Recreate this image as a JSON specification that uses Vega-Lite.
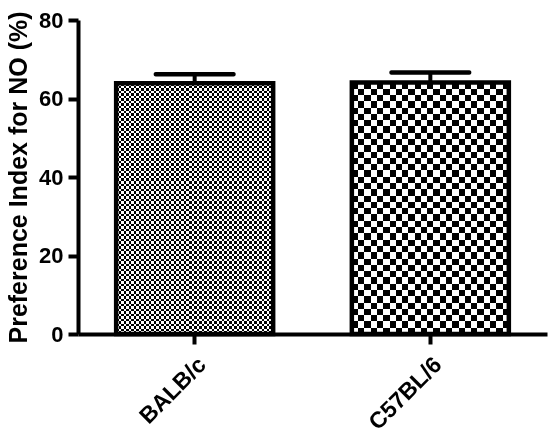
{
  "$schema": "https://vega.github.io/schema/vega-lite/v6.json",
  "autosize": "none",
  "width": 469,
  "height": 314,
  "padding": {"left": 78, "top": 20, "right": 3, "bottom": 100},
  "config": {
    "view": {"stroke": null},
    "font": "Liberation Sans",
    "axis": {
      "domainColor": "black", "domainWidth": 4, "tickColor": "black", "tickWidth": 4, "tickSize": 10,
      "labelFont": "Liberation Sans", "labelFontWeight": "bold", "labelFontSize": 22, "labelColor": "black",
      "titleFont": "Liberation Sans", "titleFontWeight": "bold", "titleFontSize": 25, "titleColor": "black",
      "grid": false
    }
  },
  "data": {"values": [
    {"strain": "BALB/c", "value": 63.9, "upper": 66.2},
    {"strain": "C57BL/6", "value": 64.1, "upper": 66.6}
  ]},
  "encoding": {
    "x": {"field": "strain", "type": "nominal", "sort": ["BALB/c", "C57BL/6"],
      "scale": {"paddingInner": 0.32, "paddingOuter": 0.155},
      "axis": {"title": null, "labelAngle": -45, "labelPadding": 9, "labelFontSize": 23}}
  },
  "layer": [
    {
      "transform": [{"filter": "datum.strain == 'C57BL/6'"}],
      "mark": {"type": "bar", "size": 157, "fill": {"gradient": "linear", "x1": 0, "y1": 0, "x2": 1, "y2": 0, "stops": [
        {"offset": 0, "color": "white"}, {"offset": 0.04, "color": "white"}, {"offset": 0.04, "color": "black"}, {"offset": 0.08, "color": "black"},
        {"offset": 0.08, "color": "white"}, {"offset": 0.12, "color": "white"}, {"offset": 0.12, "color": "black"}, {"offset": 0.16, "color": "black"},
        {"offset": 0.16, "color": "white"}, {"offset": 0.2, "color": "white"}, {"offset": 0.2, "color": "black"}, {"offset": 0.24, "color": "black"},
        {"offset": 0.24, "color": "white"}, {"offset": 0.28, "color": "white"}, {"offset": 0.28, "color": "black"}, {"offset": 0.32, "color": "black"},
        {"offset": 0.32, "color": "white"}, {"offset": 0.36, "color": "white"}, {"offset": 0.36, "color": "black"}, {"offset": 0.4, "color": "black"},
        {"offset": 0.4, "color": "white"}, {"offset": 0.44, "color": "white"}, {"offset": 0.44, "color": "black"}, {"offset": 0.48, "color": "black"},
        {"offset": 0.48, "color": "white"}, {"offset": 0.52, "color": "white"}, {"offset": 0.52, "color": "black"}, {"offset": 0.56, "color": "black"},
        {"offset": 0.56, "color": "white"}, {"offset": 0.6, "color": "white"}, {"offset": 0.6, "color": "black"}, {"offset": 0.64, "color": "black"},
        {"offset": 0.64, "color": "white"}, {"offset": 0.68, "color": "white"}, {"offset": 0.68, "color": "black"}, {"offset": 0.72, "color": "black"},
        {"offset": 0.72, "color": "white"}, {"offset": 0.76, "color": "white"}, {"offset": 0.76, "color": "black"}, {"offset": 0.8, "color": "black"},
        {"offset": 0.8, "color": "white"}, {"offset": 0.84, "color": "white"}, {"offset": 0.84, "color": "black"}, {"offset": 0.88, "color": "black"},
        {"offset": 0.88, "color": "white"}, {"offset": 0.92, "color": "white"}, {"offset": 0.92, "color": "black"}, {"offset": 0.96, "color": "black"},
        {"offset": 0.96, "color": "white"}, {"offset": 1, "color": "white"}
      ]}},
      "encoding": {"y": {"field": "value", "type": "quantitative", "scale": {"domain": [0, 80], "nice": false},
        "axis": {"title": "Preference Index for NO (%)", "values": [0, 20, 40, 60, 80], "labelPadding": 5, "titlePadding": 7}}}
    },
    {
      "transform": [{"filter": "datum.strain == 'C57BL/6'"}],
      "mark": {"type": "bar", "size": 157, "blend": "difference", "fill": {"gradient": "linear", "x1": 0, "y1": 0, "x2": 0, "y2": 1, "stops": [
        {"offset": 0, "color": "white"}, {"offset": 0.025, "color": "white"}, {"offset": 0.025, "color": "black"}, {"offset": 0.05, "color": "black"},
        {"offset": 0.05, "color": "white"}, {"offset": 0.075, "color": "white"}, {"offset": 0.075, "color": "black"}, {"offset": 0.1, "color": "black"},
        {"offset": 0.1, "color": "white"}, {"offset": 0.125, "color": "white"}, {"offset": 0.125, "color": "black"}, {"offset": 0.15, "color": "black"},
        {"offset": 0.15, "color": "white"}, {"offset": 0.175, "color": "white"}, {"offset": 0.175, "color": "black"}, {"offset": 0.2, "color": "black"},
        {"offset": 0.2, "color": "white"}, {"offset": 0.225, "color": "white"}, {"offset": 0.225, "color": "black"}, {"offset": 0.25, "color": "black"},
        {"offset": 0.25, "color": "white"}, {"offset": 0.275, "color": "white"}, {"offset": 0.275, "color": "black"}, {"offset": 0.3, "color": "black"},
        {"offset": 0.3, "color": "white"}, {"offset": 0.325, "color": "white"}, {"offset": 0.325, "color": "black"}, {"offset": 0.35, "color": "black"},
        {"offset": 0.35, "color": "white"}, {"offset": 0.375, "color": "white"}, {"offset": 0.375, "color": "black"}, {"offset": 0.4, "color": "black"},
        {"offset": 0.4, "color": "white"}, {"offset": 0.425, "color": "white"}, {"offset": 0.425, "color": "black"}, {"offset": 0.45, "color": "black"},
        {"offset": 0.45, "color": "white"}, {"offset": 0.475, "color": "white"}, {"offset": 0.475, "color": "black"}, {"offset": 0.5, "color": "black"},
        {"offset": 0.5, "color": "white"}, {"offset": 0.525, "color": "white"}, {"offset": 0.525, "color": "black"}, {"offset": 0.55, "color": "black"},
        {"offset": 0.55, "color": "white"}, {"offset": 0.575, "color": "white"}, {"offset": 0.575, "color": "black"}, {"offset": 0.6, "color": "black"},
        {"offset": 0.6, "color": "white"}, {"offset": 0.625, "color": "white"}, {"offset": 0.625, "color": "black"}, {"offset": 0.65, "color": "black"},
        {"offset": 0.65, "color": "white"}, {"offset": 0.675, "color": "white"}, {"offset": 0.675, "color": "black"}, {"offset": 0.7, "color": "black"},
        {"offset": 0.7, "color": "white"}, {"offset": 0.725, "color": "white"}, {"offset": 0.725, "color": "black"}, {"offset": 0.75, "color": "black"},
        {"offset": 0.75, "color": "white"}, {"offset": 0.775, "color": "white"}, {"offset": 0.775, "color": "black"}, {"offset": 0.8, "color": "black"},
        {"offset": 0.8, "color": "white"}, {"offset": 0.825, "color": "white"}, {"offset": 0.825, "color": "black"}, {"offset": 0.85, "color": "black"},
        {"offset": 0.85, "color": "white"}, {"offset": 0.875, "color": "white"}, {"offset": 0.875, "color": "black"}, {"offset": 0.9, "color": "black"},
        {"offset": 0.9, "color": "white"}, {"offset": 0.925, "color": "white"}, {"offset": 0.925, "color": "black"}, {"offset": 0.95, "color": "black"},
        {"offset": 0.95, "color": "white"}, {"offset": 0.975, "color": "white"}, {"offset": 0.975, "color": "black"}, {"offset": 1, "color": "black"}
      ]}},
      "encoding": {"y": {"field": "value", "type": "quantitative"}}
    },
    {
      "transform": [{"filter": "datum.strain == 'BALB/c'"}],
      "mark": {"type": "bar", "size": 157, "fill": {"gradient": "linear", "x1": 0, "y1": 0, "x2": 1, "y2": 0, "stops": [
        {"offset": 0, "color": "white"},
        {"offset": 0.016, "color": "white"}, {"offset": 0.016, "color": "black"}, {"offset": 0.032, "color": "black"}, {"offset": 0.032, "color": "white"},
        {"offset": 0.048, "color": "white"}, {"offset": 0.048, "color": "black"}, {"offset": 0.064, "color": "black"}, {"offset": 0.064, "color": "white"},
        {"offset": 0.08, "color": "white"}, {"offset": 0.08, "color": "black"}, {"offset": 0.096, "color": "black"}, {"offset": 0.096, "color": "white"},
        {"offset": 0.112, "color": "white"}, {"offset": 0.112, "color": "black"}, {"offset": 0.128, "color": "black"}, {"offset": 0.128, "color": "white"},
        {"offset": 0.144, "color": "white"}, {"offset": 0.144, "color": "black"}, {"offset": 0.16, "color": "black"}, {"offset": 0.16, "color": "white"},
        {"offset": 0.176, "color": "white"}, {"offset": 0.176, "color": "black"}, {"offset": 0.192, "color": "black"}, {"offset": 0.192, "color": "white"},
        {"offset": 0.208, "color": "white"}, {"offset": 0.208, "color": "black"}, {"offset": 0.224, "color": "black"}, {"offset": 0.224, "color": "white"},
        {"offset": 0.24, "color": "white"}, {"offset": 0.24, "color": "black"}, {"offset": 0.256, "color": "black"}, {"offset": 0.256, "color": "white"},
        {"offset": 0.272, "color": "white"}, {"offset": 0.272, "color": "black"}, {"offset": 0.288, "color": "black"}, {"offset": 0.288, "color": "white"},
        {"offset": 0.304, "color": "white"}, {"offset": 0.304, "color": "black"}, {"offset": 0.32, "color": "black"}, {"offset": 0.32, "color": "white"},
        {"offset": 0.336, "color": "white"}, {"offset": 0.336, "color": "black"}, {"offset": 0.352, "color": "black"}, {"offset": 0.352, "color": "white"},
        {"offset": 0.368, "color": "white"}, {"offset": 0.368, "color": "black"}, {"offset": 0.384, "color": "black"}, {"offset": 0.384, "color": "white"},
        {"offset": 0.4, "color": "white"}, {"offset": 0.4, "color": "black"}, {"offset": 0.416, "color": "black"}, {"offset": 0.416, "color": "white"},
        {"offset": 0.432, "color": "white"}, {"offset": 0.432, "color": "black"}, {"offset": 0.448, "color": "black"}, {"offset": 0.448, "color": "white"},
        {"offset": 0.464, "color": "white"}, {"offset": 0.464, "color": "black"}, {"offset": 0.48, "color": "black"}, {"offset": 0.48, "color": "white"},
        {"offset": 0.496, "color": "white"}, {"offset": 0.496, "color": "black"}, {"offset": 0.512, "color": "black"}, {"offset": 0.512, "color": "white"},
        {"offset": 0.528, "color": "white"}, {"offset": 0.528, "color": "black"}, {"offset": 0.544, "color": "black"}, {"offset": 0.544, "color": "white"},
        {"offset": 0.56, "color": "white"}, {"offset": 0.56, "color": "black"}, {"offset": 0.576, "color": "black"}, {"offset": 0.576, "color": "white"},
        {"offset": 0.592, "color": "white"}, {"offset": 0.592, "color": "black"}, {"offset": 0.608, "color": "black"}, {"offset": 0.608, "color": "white"},
        {"offset": 0.624, "color": "white"}, {"offset": 0.624, "color": "black"}, {"offset": 0.64, "color": "black"}, {"offset": 0.64, "color": "white"},
        {"offset": 0.656, "color": "white"}, {"offset": 0.656, "color": "black"}, {"offset": 0.672, "color": "black"}, {"offset": 0.672, "color": "white"},
        {"offset": 0.688, "color": "white"}, {"offset": 0.688, "color": "black"}, {"offset": 0.704, "color": "black"}, {"offset": 0.704, "color": "white"},
        {"offset": 0.72, "color": "white"}, {"offset": 0.72, "color": "black"}, {"offset": 0.736, "color": "black"}, {"offset": 0.736, "color": "white"},
        {"offset": 0.752, "color": "white"}, {"offset": 0.752, "color": "black"}, {"offset": 0.768, "color": "black"}, {"offset": 0.768, "color": "white"},
        {"offset": 0.784, "color": "white"}, {"offset": 0.784, "color": "black"}, {"offset": 0.8, "color": "black"}, {"offset": 0.8, "color": "white"},
        {"offset": 0.816, "color": "white"}, {"offset": 0.816, "color": "black"}, {"offset": 0.832, "color": "black"}, {"offset": 0.832, "color": "white"},
        {"offset": 0.848, "color": "white"}, {"offset": 0.848, "color": "black"}, {"offset": 0.864, "color": "black"}, {"offset": 0.864, "color": "white"},
        {"offset": 0.88, "color": "white"}, {"offset": 0.88, "color": "black"}, {"offset": 0.896, "color": "black"}, {"offset": 0.896, "color": "white"},
        {"offset": 0.912, "color": "white"}, {"offset": 0.912, "color": "black"}, {"offset": 0.928, "color": "black"}, {"offset": 0.928, "color": "white"},
        {"offset": 0.944, "color": "white"}, {"offset": 0.944, "color": "black"}, {"offset": 0.96, "color": "black"}, {"offset": 0.96, "color": "white"},
        {"offset": 0.976, "color": "white"}, {"offset": 0.976, "color": "black"}, {"offset": 0.992, "color": "black"}, {"offset": 0.992, "color": "white"},
        {"offset": 1, "color": "white"}
      ]}},
      "encoding": {"y": {"field": "value", "type": "quantitative"}}
    },
    {
      "transform": [{"filter": "datum.strain == 'BALB/c'"}],
      "mark": {"type": "bar", "size": 157, "blend": "difference", "fill": {"gradient": "linear", "x1": 0, "y1": 0, "x2": 0, "y2": 1, "stops": [
        {"offset": 0, "color": "white"},
        {"offset": 0.01, "color": "white"}, {"offset": 0.01, "color": "black"}, {"offset": 0.02, "color": "black"}, {"offset": 0.02, "color": "white"},
        {"offset": 0.03, "color": "white"}, {"offset": 0.03, "color": "black"}, {"offset": 0.04, "color": "black"}, {"offset": 0.04, "color": "white"},
        {"offset": 0.05, "color": "white"}, {"offset": 0.05, "color": "black"}, {"offset": 0.06, "color": "black"}, {"offset": 0.06, "color": "white"},
        {"offset": 0.07, "color": "white"}, {"offset": 0.07, "color": "black"}, {"offset": 0.08, "color": "black"}, {"offset": 0.08, "color": "white"},
        {"offset": 0.09, "color": "white"}, {"offset": 0.09, "color": "black"}, {"offset": 0.1, "color": "black"}, {"offset": 0.1, "color": "white"},
        {"offset": 0.11, "color": "white"}, {"offset": 0.11, "color": "black"}, {"offset": 0.12, "color": "black"}, {"offset": 0.12, "color": "white"},
        {"offset": 0.13, "color": "white"}, {"offset": 0.13, "color": "black"}, {"offset": 0.14, "color": "black"}, {"offset": 0.14, "color": "white"},
        {"offset": 0.15, "color": "white"}, {"offset": 0.15, "color": "black"}, {"offset": 0.16, "color": "black"}, {"offset": 0.16, "color": "white"},
        {"offset": 0.17, "color": "white"}, {"offset": 0.17, "color": "black"}, {"offset": 0.18, "color": "black"}, {"offset": 0.18, "color": "white"},
        {"offset": 0.19, "color": "white"}, {"offset": 0.19, "color": "black"}, {"offset": 0.2, "color": "black"}, {"offset": 0.2, "color": "white"},
        {"offset": 0.21, "color": "white"}, {"offset": 0.21, "color": "black"}, {"offset": 0.22, "color": "black"}, {"offset": 0.22, "color": "white"},
        {"offset": 0.23, "color": "white"}, {"offset": 0.23, "color": "black"}, {"offset": 0.24, "color": "black"}, {"offset": 0.24, "color": "white"},
        {"offset": 0.25, "color": "white"}, {"offset": 0.25, "color": "black"}, {"offset": 0.26, "color": "black"}, {"offset": 0.26, "color": "white"},
        {"offset": 0.27, "color": "white"}, {"offset": 0.27, "color": "black"}, {"offset": 0.28, "color": "black"}, {"offset": 0.28, "color": "white"},
        {"offset": 0.29, "color": "white"}, {"offset": 0.29, "color": "black"}, {"offset": 0.3, "color": "black"}, {"offset": 0.3, "color": "white"},
        {"offset": 0.31, "color": "white"}, {"offset": 0.31, "color": "black"}, {"offset": 0.32, "color": "black"}, {"offset": 0.32, "color": "white"},
        {"offset": 0.33, "color": "white"}, {"offset": 0.33, "color": "black"}, {"offset": 0.34, "color": "black"}, {"offset": 0.34, "color": "white"},
        {"offset": 0.35, "color": "white"}, {"offset": 0.35, "color": "black"}, {"offset": 0.36, "color": "black"}, {"offset": 0.36, "color": "white"},
        {"offset": 0.37, "color": "white"}, {"offset": 0.37, "color": "black"}, {"offset": 0.38, "color": "black"}, {"offset": 0.38, "color": "white"},
        {"offset": 0.39, "color": "white"}, {"offset": 0.39, "color": "black"}, {"offset": 0.4, "color": "black"}, {"offset": 0.4, "color": "white"},
        {"offset": 0.41, "color": "white"}, {"offset": 0.41, "color": "black"}, {"offset": 0.42, "color": "black"}, {"offset": 0.42, "color": "white"},
        {"offset": 0.43, "color": "white"}, {"offset": 0.43, "color": "black"}, {"offset": 0.44, "color": "black"}, {"offset": 0.44, "color": "white"},
        {"offset": 0.45, "color": "white"}, {"offset": 0.45, "color": "black"}, {"offset": 0.46, "color": "black"}, {"offset": 0.46, "color": "white"},
        {"offset": 0.47, "color": "white"}, {"offset": 0.47, "color": "black"}, {"offset": 0.48, "color": "black"}, {"offset": 0.48, "color": "white"},
        {"offset": 0.49, "color": "white"}, {"offset": 0.49, "color": "black"}, {"offset": 0.5, "color": "black"}, {"offset": 0.5, "color": "white"},
        {"offset": 0.51, "color": "white"}, {"offset": 0.51, "color": "black"}, {"offset": 0.52, "color": "black"}, {"offset": 0.52, "color": "white"},
        {"offset": 0.53, "color": "white"}, {"offset": 0.53, "color": "black"}, {"offset": 0.54, "color": "black"}, {"offset": 0.54, "color": "white"},
        {"offset": 0.55, "color": "white"}, {"offset": 0.55, "color": "black"}, {"offset": 0.56, "color": "black"}, {"offset": 0.56, "color": "white"},
        {"offset": 0.57, "color": "white"}, {"offset": 0.57, "color": "black"}, {"offset": 0.58, "color": "black"}, {"offset": 0.58, "color": "white"},
        {"offset": 0.59, "color": "white"}, {"offset": 0.59, "color": "black"}, {"offset": 0.6, "color": "black"}, {"offset": 0.6, "color": "white"},
        {"offset": 0.61, "color": "white"}, {"offset": 0.61, "color": "black"}, {"offset": 0.62, "color": "black"}, {"offset": 0.62, "color": "white"},
        {"offset": 0.63, "color": "white"}, {"offset": 0.63, "color": "black"}, {"offset": 0.64, "color": "black"}, {"offset": 0.64, "color": "white"},
        {"offset": 0.65, "color": "white"}, {"offset": 0.65, "color": "black"}, {"offset": 0.66, "color": "black"}, {"offset": 0.66, "color": "white"},
        {"offset": 0.67, "color": "white"}, {"offset": 0.67, "color": "black"}, {"offset": 0.68, "color": "black"}, {"offset": 0.68, "color": "white"},
        {"offset": 0.69, "color": "white"}, {"offset": 0.69, "color": "black"}, {"offset": 0.7, "color": "black"}, {"offset": 0.7, "color": "white"},
        {"offset": 0.71, "color": "white"}, {"offset": 0.71, "color": "black"}, {"offset": 0.72, "color": "black"}, {"offset": 0.72, "color": "white"},
        {"offset": 0.73, "color": "white"}, {"offset": 0.73, "color": "black"}, {"offset": 0.74, "color": "black"}, {"offset": 0.74, "color": "white"},
        {"offset": 0.75, "color": "white"}, {"offset": 0.75, "color": "black"}, {"offset": 0.76, "color": "black"}, {"offset": 0.76, "color": "white"},
        {"offset": 0.77, "color": "white"}, {"offset": 0.77, "color": "black"}, {"offset": 0.78, "color": "black"}, {"offset": 0.78, "color": "white"},
        {"offset": 0.79, "color": "white"}, {"offset": 0.79, "color": "black"}, {"offset": 0.8, "color": "black"}, {"offset": 0.8, "color": "white"},
        {"offset": 0.81, "color": "white"}, {"offset": 0.81, "color": "black"}, {"offset": 0.82, "color": "black"}, {"offset": 0.82, "color": "white"},
        {"offset": 0.83, "color": "white"}, {"offset": 0.83, "color": "black"}, {"offset": 0.84, "color": "black"}, {"offset": 0.84, "color": "white"},
        {"offset": 0.85, "color": "white"}, {"offset": 0.85, "color": "black"}, {"offset": 0.86, "color": "black"}, {"offset": 0.86, "color": "white"},
        {"offset": 0.87, "color": "white"}, {"offset": 0.87, "color": "black"}, {"offset": 0.88, "color": "black"}, {"offset": 0.88, "color": "white"},
        {"offset": 0.89, "color": "white"}, {"offset": 0.89, "color": "black"}, {"offset": 0.9, "color": "black"}, {"offset": 0.9, "color": "white"},
        {"offset": 0.91, "color": "white"}, {"offset": 0.91, "color": "black"}, {"offset": 0.92, "color": "black"}, {"offset": 0.92, "color": "white"},
        {"offset": 0.93, "color": "white"}, {"offset": 0.93, "color": "black"}, {"offset": 0.94, "color": "black"}, {"offset": 0.94, "color": "white"},
        {"offset": 0.95, "color": "white"}, {"offset": 0.95, "color": "black"}, {"offset": 0.96, "color": "black"}, {"offset": 0.96, "color": "white"},
        {"offset": 0.97, "color": "white"}, {"offset": 0.97, "color": "black"}, {"offset": 0.98, "color": "black"}, {"offset": 0.98, "color": "white"},
        {"offset": 0.99, "color": "white"}, {"offset": 0.99, "color": "black"}, {"offset": 1, "color": "black"}
      ]}},
      "encoding": {"y": {"field": "value", "type": "quantitative"}}
    },
    {
      "mark": {"type": "bar", "size": 157, "fill": null, "fillOpacity": 0, "stroke": "black", "strokeWidth": 4.5},
      "encoding": {"y": {"field": "value", "type": "quantitative"}}
    },
    {
      "mark": {"type": "rule", "color": "black", "strokeWidth": 4},
      "encoding": {"y": {"field": "value", "type": "quantitative"}, "y2": {"field": "upper"}}
    },
    {
      "mark": {"type": "tick", "color": "black", "size": 82, "thickness": 4.5, "cornerRadius": 2, "opacity": 1},
      "encoding": {"y": {"field": "upper", "type": "quantitative"}}
    }
  ]
}
